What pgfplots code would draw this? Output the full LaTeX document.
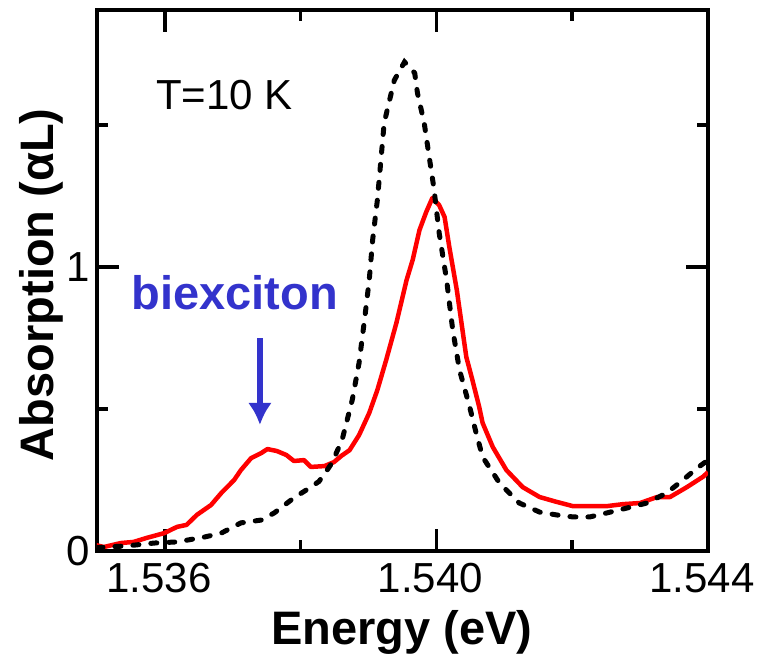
\documentclass[border=0pt]{standalone}
\usepackage{fontspec}
\setmainfont{Liberation Sans}
\usepackage{pgfplots}
\pgfplotsset{compat=1.18}
\usetikzlibrary{arrows.meta}
\definecolor{bxblue}{RGB}{51,51,204}
\begin{document}
\begin{tikzpicture}
\useasboundingbox (-97pt,-105pt) rectangle (660pt,551pt);
\begin{axis}[
  at={(0pt,0pt)}, anchor=south west,
  scale only axis, width=611pt, height=541pt,
  xmin=1.535, xmax=1.544, ymin=0, ymax=1.905,
  axis line style={line width=3.5pt},
  tick style={line width=3.5pt, black},
  tick align=inside, major tick length=22pt, minor tick length=11pt,
  xtick={1.536,1.540,1.544}, xticklabels={1.536,1.540,1.544},
  minor xtick={1.538,1.542},
  ytick={0,1}, yticklabels={0,1}, minor ytick={0.5,1.5},
  ticklabel style={font=\fontsize{42}{48}\selectfont},
  xticklabel style={yshift=-9pt, xshift=-6pt},
  yticklabel style={xshift=-4pt},
  xlabel={Energy (eV)}, ylabel={Absorption (αL)},
  label style={font=\bfseries\fontsize{47}{54}\selectfont},
  xlabel style={at={(axis description cs:0.499,-0.173)}, anchor=base},
  ylabel style={at={(axis description cs:-0.072,0.492)}, anchor=base},
]
\addplot[red, line width=4.5pt, line join=round] coordinates {
(1.53498,0.021) (1.53510,0.014) (1.53535,0.028) (1.53554,0.032) (1.53573,0.046)
(1.53599,0.063) (1.53618,0.085) (1.53632,0.092) (1.53647,0.127) (1.53668,0.162)
(1.53683,0.204) (1.53702,0.250) (1.53712,0.285) (1.53727,0.327) (1.53742,0.345)
(1.53751,0.359) (1.53765,0.352) (1.53779,0.338) (1.53790,0.317) (1.53805,0.320)
(1.53815,0.296) (1.53835,0.299) (1.53849,0.313) (1.53860,0.335) (1.53872,0.355)
(1.53886,0.408) (1.53901,0.486) (1.53913,0.567) (1.53926,0.673) (1.53941,0.803)
(1.53956,0.954) (1.53965,1.025) (1.53975,1.130) (1.53985,1.194) (1.53994,1.243)
(1.54004,1.218) (1.54012,1.176) (1.54019,1.070) (1.54030,0.919) (1.54044,0.683)
(1.54053,0.602) (1.54063,0.507) (1.54068,0.451) (1.54083,0.366) (1.54103,0.285)
(1.54127,0.225) (1.54152,0.190) (1.54177,0.173) (1.54201,0.158) (1.54226,0.158)
(1.54251,0.158) (1.54275,0.165) (1.54300,0.169) (1.54325,0.190) (1.54344,0.190)
(1.54369,0.225) (1.54393,0.262) (1.54400,0.278)
};
\addplot[black, line width=5pt, line cap=round, dash pattern=on 6pt off 12pt] coordinates {
(1.53500,0.012) (1.53544,0.018) (1.53584,0.028) (1.53618,0.032) (1.53658,0.049)
(1.53683,0.063) (1.53712,0.099) (1.53742,0.109) (1.53761,0.134) (1.53790,0.187)
(1.53815,0.225) (1.53827,0.245) (1.53839,0.285) (1.53846,0.310) (1.53861,0.391)
(1.53876,0.532) (1.53886,0.662) (1.53894,0.813) (1.53901,0.954) (1.53906,1.095)
(1.53913,1.236) (1.53923,1.507) (1.53931,1.588) (1.53938,1.658) (1.53953,1.722)
(1.53968,1.683) (1.53972,1.613) (1.53982,1.507) (1.53990,1.377) (1.53996,1.282)
(1.54004,1.120) (1.54015,0.954) (1.54024,0.778) (1.54034,0.637) (1.54049,0.507)
(1.54058,0.420) (1.54068,0.331) (1.54093,0.239) (1.54122,0.169) (1.54152,0.137)
(1.54177,0.127) (1.54201,0.120) (1.54226,0.120) (1.54251,0.134) (1.54280,0.151)
(1.54310,0.169) (1.54339,0.204) (1.54363,0.250) (1.54384,0.292) (1.54400,0.320)
};
\node[anchor=base west, font=\fontsize{42}{48}\selectfont, inner sep=0pt] at (axis cs:1.53587,1.553) {T=10 K};
\node[anchor=base, font=\bfseries\fontsize{47}{54}\selectfont, text=bxblue, inner sep=0pt] at (axis cs:1.53703,0.849) {biexciton};
\draw[bxblue, line width=6pt, -{Latex[length=22pt,width=24pt]}] (axis cs:1.53740,0.750) -- (axis cs:1.53740,0.444);
\end{axis}
\end{tikzpicture}
\end{document}
